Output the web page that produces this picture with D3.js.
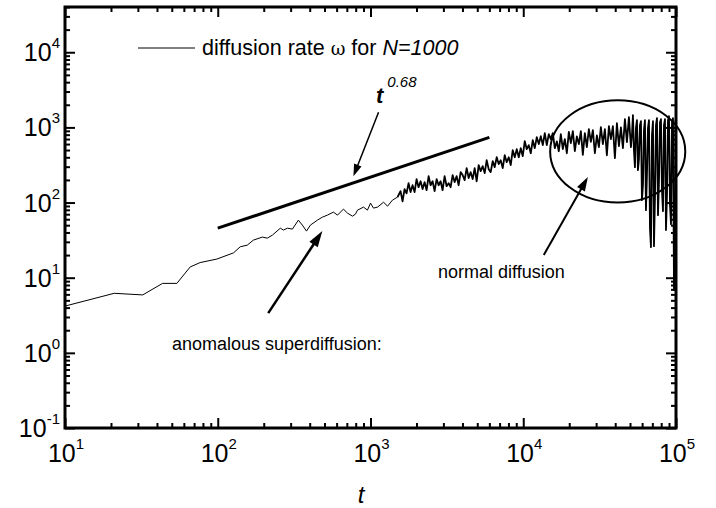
<!DOCTYPE html>
<html><head><meta charset="utf-8">
<script src="https://cdn.jsdelivr.net/npm/d3@7"></script>
<style>body{margin:0;background:#fff} svg{display:block} text{font-family:Arial,"Liberation Sans",sans-serif;fill:#000}</style>
</head><body><svg id="c" width="716" height="508"></svg>
<script>
// ---- data ----
const timeEarly = [10, 21, 32.3, 43.5, 54, 66, 76.7, 98.7, 126.8, 140.4, 156, 171, 196, 211, 228, 257, 269, 286, 308, 337, 358, 381, 404, 449, 484, 522, 572, 608, 636, 665, 707, 762, 797, 822, 900, 955, 1000, 1046, 1112, 1217, 1293, 1394, 1503];
const rateEarly = [4.19, 6.2, 5.9, 8.4, 8.4, 13.9, 15.9, 17.7, 21.4, 25.8, 27.1, 31.6, 34.7, 33.6, 36.9, 45.6, 43.0, 45.6, 44.3, 58.3, 50.1, 41.7, 50.1, 58.3, 63.9, 68.0, 74.5, 68.0, 74.5, 81.8, 72.3, 65.9, 70.1, 79.3, 86.9, 79.3, 98.2, 84.3, 86.9, 101, 89.6, 108, 118];
const timeLate = [1573,1621,1671,1722,1775,1829,1885,1943,2003,2064,2128,2193,2261,2330,2401,2474,2550,2628,2709,2792,2877,2965,3056,3150,3247,3346,3449,3554,3664,3776,3892,4011,4134,4261,4392,4526,4665,4808,4955,5107,5264,5426,5592,5763,5940,6122,6310,6503,6703,6908,7120,7338,7564,7796,8035,8279,8533,8795,9065,9343,9630,9925,10230,10544,10867,11200,11544,11898,12263,12639,13025,13425,13836,14261,14699,15148,15613,16092,16586,17094,17617,18158,18715,19289,19881,20490,21119,21766,22434,23123,23823,24554,25307,26084,26885,27707,28558,29434,30337,31268,32223,33212,34231,35281,36364,37477,38627,39812,41034,42293,43585,44923,46301,47721,49186,
50690,51461,52246,53041,53849,54668,55501,56345,57205,58076,58955,59852,60764,61689,62628,63581,64550,65533,66531,67544,68567,69611,70671,71748,72839,73947,75075,76218,77378,78556,79730,80943,82177,83428,84698,85987,87297,88626,89976,91345,92730,94141,95576,97030,98509,99250,100000];
const rateLate = [142,104,151,133,181,138,170,138,205,160,
192,151,187,146,225,170,192,142,205,170,
192,146,225,165,181,160,232,187,225,170,
254,232,199,287,212,254,205,287,192,315,
262,305,247,366,278,254,356,296,401,325,
366,287,426,345,401,315,498,401,513,401,
529,414,656,513,580,453,676,529,741,599,
764,580,838,580,813,700,838,529,650,482,
813,513,700,453,870,620,890,482,760,600,
890,430,838,546,946,640,918,453,780,546,
1006,600,946,426,1037,700,1037,389,1137,563,
1000,529,1286,636,1367,
546,788,1453,498,296,976,1247,270,377,1069,
1209,107.6,170,918,1247,79.3,239,976,1247,45.6,
25.5,788,1209,26.3,118,1069,1326,68,192,1173,
1286,146,76.8,1069,1286,43,125,1247,1409,92.3,
51.7,1173,1326,6.84,11.2,1247,4.07];
const fitTime = [100, 6000];
const fitRate = [45.6, 738];
const xTickExponents = ["1", "2", "3", "4", "5"];
const yTickExponents = ["-1", "0", "1", "2", "3", "4"];
const legendLabel = ["diffusion rate ", "\u03C9", " for ", "N=1000"];
const fitLabel = ["t", "0.68"];
const noteAnomalous = "anomalous superdiffusion:";
const noteNormal = "normal diffusion";
// annotation anchors in data units (tail -> tip)
const arrowFit = [[1129, 1592], [773, 224]];
const arrowAnom = [[214, 3.38], [484, 41.7]];
const arrowNorm = [[13630, 20.0], [26490, 218]];
const ellipseBox = [[15000, 100], [115000, 2300]];

// ---- chart ----
const svg = d3.select("#c");
const L = 65, R = 676, T = 7, B = 428;
const x = d3.scaleLog().domain([10, 1e5]).range([L, R]);
const y = d3.scaleLog().domain([0.1, 4e4]).range([B, T]);

const early = timeEarly.map((t, i) => [t, rateEarly[i]]);
const late = timeLate.map((t, i) => [t, rateLate[i]]);
const line = d3.line().x(d => x(d[0])).y(d => y(d[1]));

svg.append("path").datum(early.concat([late[0]]))
  .attr("d", line).attr("fill", "none").attr("stroke", "#000").attr("stroke-width", 1);
svg.append("path").datum([early[early.length - 1]].concat(late))
  .attr("d", line).attr("fill", "none").attr("stroke", "#000").attr("stroke-width", 1.8)
  .attr("stroke-linejoin", "round");

// fit line
svg.append("line")
  .attr("x1", x(fitTime[0])).attr("y1", y(fitRate[0]))
  .attr("x2", x(fitTime[1])).attr("y2", y(fitRate[1]))
  .attr("stroke", "#000").attr("stroke-width", 3);

// ticks
const isMajor = v => Math.abs(Math.log10(v) - Math.round(Math.log10(v))) < 1e-9;
const xt = x.ticks(), yt = y.ticks();
const xMaj = xt.filter(isMajor), xMin = xt.filter(v => !isMajor(v));
const yMaj = yt.filter(isMajor), yMin = yt.filter(v => !isMajor(v));
function addAxis(gen, tr, vals, size) {
  const g = svg.append("g").attr("transform", tr)
    .call(gen.tickValues(vals).tickSize(-size).tickFormat(""));
  g.select(".domain").remove();
  g.selectAll("line").attr("stroke", "#000").attr("stroke-width", 2);
}
addAxis(d3.axisBottom(x), `translate(0,${B})`, xMaj, 10);
addAxis(d3.axisBottom(x), `translate(0,${B})`, xMin, 5);
addAxis(d3.axisTop(x), `translate(0,${T})`, xMaj, 10);
addAxis(d3.axisTop(x), `translate(0,${T})`, xMin, 5);
addAxis(d3.axisLeft(y), `translate(${L},0)`, yMaj, 10);
addAxis(d3.axisLeft(y), `translate(${L},0)`, yMin, 5);
addAxis(d3.axisRight(y), `translate(${R},0)`, yMaj, 10);
addAxis(d3.axisRight(y), `translate(${R},0)`, yMin, 5);

svg.append("rect").attr("x", L).attr("y", T).attr("width", R - L).attr("height", B - T)
  .attr("fill", "none").attr("stroke", "#000").attr("stroke-width", 3);

// tick labels
xMaj.forEach((v, i) => {
  const t = svg.append("text").attr("x", x(v) + 1).attr("y", 462)
    .attr("text-anchor", "middle").attr("font-size", 25);
  t.append("tspan").text("10");
  t.append("tspan").attr("dy", -13).attr("font-size", 15).text(xTickExponents[i]);
});
yMaj.forEach((v, i) => {
  const t = svg.append("text").attr("x", 60).attr("y", y(v) + 9)
    .attr("text-anchor", "end").attr("font-size", 25);
  t.append("tspan").text("10");
  t.append("tspan").attr("dy", -13).attr("font-size", 15).text(yTickExponents[i]);
});
svg.append("text").attr("x", 361).attr("y", 503).attr("text-anchor", "middle")
  .attr("font-size", 24).attr("font-style", "italic").text("t");

// legend
svg.append("line").attr("x1", 138).attr("x2", 195).attr("y1", 48).attr("y2", 48)
  .attr("stroke", "#000").attr("stroke-width", 1);
const lg = svg.append("text").attr("x", 202).attr("y", 55).attr("font-size", 21.5);
lg.append("tspan").text(legendLabel[0]);
lg.append("tspan").attr("font-family", "'DejaVu Serif',serif").attr("font-size", 18).text(legendLabel[1]);
lg.append("tspan").text(legendLabel[2]);
lg.append("tspan").attr("font-style", "italic").text(legendLabel[3]);

// fit label
const fl = svg.append("text").attr("x", 376).attr("y", 103).attr("font-size", 22);
fl.append("tspan").attr("font-weight", "bold").attr("font-style", "italic").text(fitLabel[0]);
fl.append("tspan").attr("dx", 4).attr("dy", -16).attr("font-size", 15).attr("font-style", "italic").text(fitLabel[1]);

// notes
svg.append("text").attr("x", 172).attr("y", 350).attr("font-size", 18).text(noteAnomalous);
svg.append("text").attr("x", 438).attr("y", 278).attr("font-size", 18).text(noteNormal);

// arrows
function arrow(a, w, hl, hw) {
  const p0 = [x(a[0][0]), y(a[0][1])], p1 = [x(a[1][0]), y(a[1][1])];
  const dx = p1[0] - p0[0], dy = p1[1] - p0[1], len = Math.hypot(dx, dy);
  const ux = dx / len, uy = dy / len;
  const bx = p1[0] - ux * hl, by = p1[1] - uy * hl;
  svg.append("line").attr("x1", p0[0]).attr("y1", p0[1]).attr("x2", bx + ux * 2).attr("y2", by + uy * 2)
    .attr("stroke", "#000").attr("stroke-width", w);
  svg.append("path").attr("d", `M${p1[0]},${p1[1]}L${bx - uy * hw / 2},${by + ux * hw / 2}L${bx + uy * hw / 2},${by - ux * hw / 2}Z`)
    .attr("fill", "#000");
}
arrow(arrowFit, 1.5, 12, 8);
arrow(arrowAnom, 2.5, 16, 10);
arrow(arrowNorm, 2, 14, 9);

// ellipse
const ex0 = x(ellipseBox[0][0]), ex1 = x(ellipseBox[1][0]);
const ey0 = y(ellipseBox[1][1]), ey1 = y(ellipseBox[0][1]);
svg.append("ellipse").attr("cx", (ex0 + ex1) / 2).attr("cy", (ey0 + ey1) / 2)
  .attr("rx", (ex1 - ex0) / 2).attr("ry", (ey1 - ey0) / 2)
  .attr("fill", "none").attr("stroke", "#000").attr("stroke-width", 2);
</script></body></html>
